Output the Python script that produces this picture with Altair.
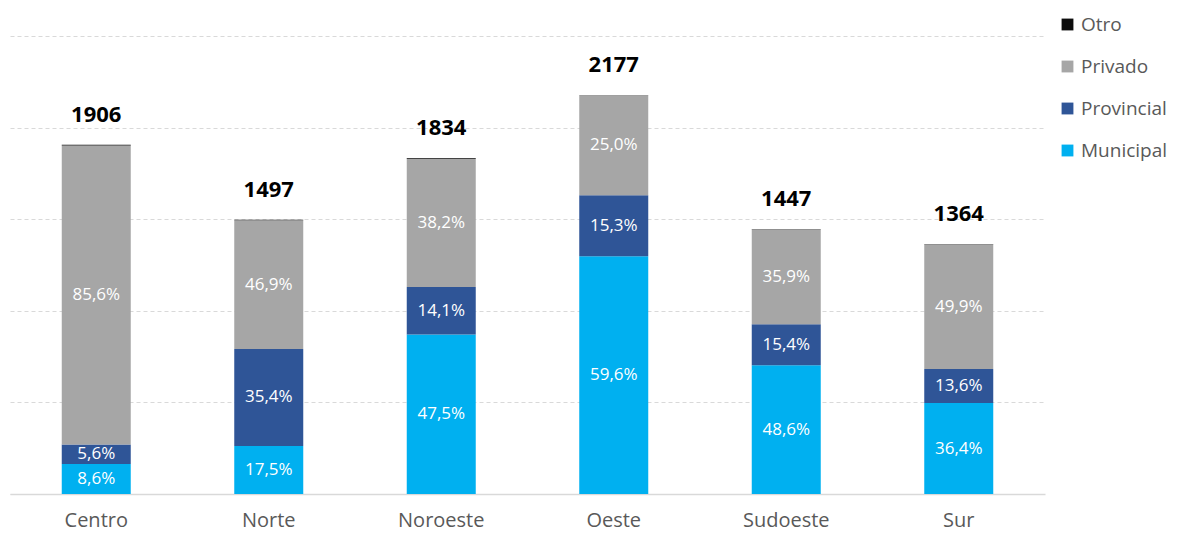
import altair as alt
import pandas as pd

regions = ["Centro", "Norte", "Noroeste", "Oeste", "Sudoeste", "Sur"]
totals = [1906, 1497, 1834, 2177, 1447, 1364]
municipal = [8.6, 17.5, 47.5, 59.6, 48.6, 36.4]
provincial = [5.6, 35.4, 14.1, 15.3, 15.4, 13.6]
privado = [85.6, 46.9, 38.2, 25.0, 35.9, 49.9]
otro = [0.2, 0.2, 0.2, 0.1, 0.1, 0.1]

cats = ["Otro", "Privado", "Provincial", "Municipal"]
colors = ["#0d0d0d", "#a6a6a6", "#2f5597", "#00b0f0"]
stack_order = {"Municipal": 0, "Provincial": 1, "Privado": 2, "Otro": 3}

rows = []
for i, r in enumerate(regions):
    for c, vals in [("Municipal", municipal), ("Provincial", provincial),
                    ("Privado", privado), ("Otro", otro)]:
        p = vals[i]
        rows.append({
            "region": r, "cat": c, "pct": p,
            "value": totals[i] * p / 100.0,
            "label": (f"{p:.1f}".replace(".", ",") + "%") if c != "Otro" else "",
            "ord": stack_order[c],
        })
df = pd.DataFrame(rows)
tdf = pd.DataFrame({"region": regions, "total": totals})

FONT = "Open Sans"

xenc = alt.X("region:N", sort=regions, title=None,
             scale=alt.Scale(paddingInner=0.6, paddingOuter=0.3),
             axis=alt.Axis(labelAngle=0, labelFontSize=20, labelColor="#595959",
                           labelFont=FONT, ticks=False, labelPadding=16,
                           domain=True, domainColor="#d9d9d9", domainWidth=1.5))
yscale = alt.Scale(domain=[0, 2500], nice=False)

bars = alt.Chart(df).mark_bar().encode(
    x=xenc,
    y=alt.Y("value:Q", stack="zero", scale=yscale, title=None,
            axis=alt.Axis(labels=False, ticks=False, domain=False, grid=True,
                          values=[0, 500, 1000, 1500, 2000, 2500],
                          gridColor="#d9d9d9", gridDash=[4, 3], gridWidth=1)),
    color=alt.Color("cat:N", sort=cats,
                    scale=alt.Scale(domain=cats, range=colors),
                    legend=alt.Legend(title=None, orient="none", legendX=1048, legendY=-21,
                                      symbolType="square", symbolSize=140,
                                      symbolStrokeWidth=0,
                                      labelFontSize=19, labelFont=FONT,
                                      labelColor="#595959", rowPadding=22,
                                      labelOffset=4)),
    order=alt.Order("ord:Q", sort="ascending"),
)

pct_text = alt.Chart(df).transform_stack(
    stack="value", groupby=["region"], as_=["y0", "y1"],
    sort=[alt.SortField("ord", order="ascending")]
).transform_calculate(
    mid="(datum.y0 + datum.y1) / 2"
).mark_text(color="white", fontSize=17, font=FONT, baseline="middle").encode(
    x=alt.X("region:N", sort=regions),
    y=alt.Y("mid:Q", scale=yscale),
    text="label:N",
)

tot_text = alt.Chart(tdf).mark_text(
    fontSize=22, fontWeight="bold", font=FONT, color="#000000",
    baseline="alphabetic", dy=-23
).encode(
    x=alt.X("region:N", sort=regions),
    y=alt.Y("total:Q", scale=yscale),
    text="total:Q",
)

chart = alt.layer(bars, pct_text, tot_text).properties(
    width=1035, height=458,
    autosize=alt.AutoSizeParams(type="none"),
    padding={"left": 2, "top": 28, "right": 127, "bottom": 38},
).configure_view(stroke=None)

chart.save("out.html", embed_options={"renderer": "svg", "actions": False})
